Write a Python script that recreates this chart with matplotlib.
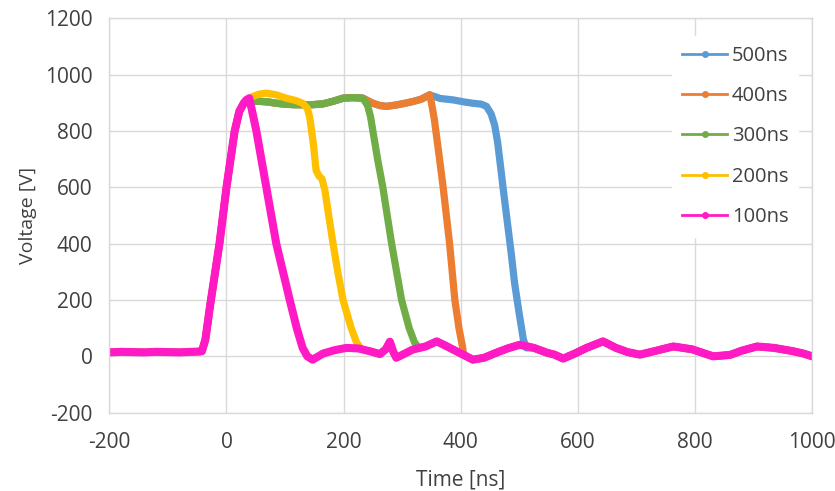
import numpy as np
import matplotlib
matplotlib.use("Agg")
import matplotlib.pyplot as plt
from matplotlib.lines import Line2D

plt.rcParams["font.family"] = ["Open Sans", "DejaVu Sans"]
plt.rcParams["axes.unicode_minus"] = False

# pulse widths and trace colours
labels = ["500ns", "400ns", "300ns", "200ns", "100ns"]
colors = ["#5B9BD5", "#ED7D31", "#70AD47", "#FFC000", "#FF1AC6"]

# flat level before the pulse
lead_t = [-200, -180, -160, -140, -120, -100, -80, -60, -46]
lead_v = [14, 16, 15, 14, 16, 15, 14, 16, 17]

# common rising edge
rise_t = [-42, -36, -28, -20, -12, 0, 14, 22, 30]
rise_v = [18, 60, 180, 290, 400, 600, 800, 870, 900]

# common flat top (500/400/300 ns traces)
top_t = [40, 55, 70, 85, 100, 115, 130, 147, 165, 182, 199, 215, 233, 250,
         262, 273, 290, 305, 318, 332, 347, 365, 387, 405, 421, 435, 444]
top_v = [905, 905, 903, 898, 895, 893, 893, 893, 896, 905, 916, 918, 916, 898,
         890, 887, 892, 898, 904, 912, 928, 915, 910, 903, 898, 895, 887]

# 200 ns flat top
yellow_top_t = [36, 45, 55, 68, 85, 102, 118, 130, 138]
yellow_top_v = [910, 922, 930, 934, 928, 916, 908, 898, 880]

# falling edges
blue_fall_t = [452, 458, 463, 468, 474, 480, 486, 492, 500, 507, 512]
blue_fall_v = [860, 820, 760, 674, 570, 470, 370, 260, 150, 60, 30]
orange_fall_t = [350, 355, 362, 370, 381, 390, 397, 403]
orange_fall_v = [900, 840, 730, 600, 400, 200, 100, 35]
green_fall_t = [241, 246, 250, 258, 267, 282, 299, 312, 321, 328]
green_fall_v = [890, 850, 800, 700, 600, 400, 200, 100, 50, 30]
yellow_fall_t = [142, 148, 153, 158, 163, 168, 176, 182, 190, 199, 213, 222, 230]
yellow_fall_v = [850, 760, 660, 640, 630, 590, 480, 400, 300, 200, 100, 50, 25]
pink_fall_t = [34, 39, 51, 68, 85, 108, 120, 130, 138, 147]
pink_fall_v = [910, 916, 800, 600, 400, 200, 100, 30, 0, -12]

# ringing after the pulse
tail_t = [147, 165, 185, 205, 225, 245, 262, 272, 279, 285, 290, 300, 318, 340,
          359, 372, 387, 405, 421, 440, 461, 480, 501, 525, 547, 560, 575, 595,
          615, 643, 665, 685, 706, 730, 763, 795, 831, 860, 880, 906, 935, 968,
          985, 1000]
tail_v = [-12, 10, 22, 30, 28, 18, 8, 25, 52, 15, -5, 5, 24, 35,
          53, 40, 24, 5, -12, -5, 13, 28, 41, 30, 13, 6, -8, 10,
          30, 53, 30, 15, 6, 18, 35, 25, 0, 5, 20, 35, 30, 18,
          10, 0]


def build(top_x, top_y, fall_x, fall_y):
    top_x, top_y = np.asarray(top_x), np.asarray(top_y)
    tx, ty = np.asarray(tail_t), np.asarray(tail_v)
    keep_top = top_x < fall_x[0]
    keep_tail = tx > fall_x[-1]
    keep_rise = np.asarray(rise_t) < fall_x[0]
    t = np.concatenate([lead_t, np.asarray(rise_t)[keep_rise], top_x[keep_top], fall_x, tx[keep_tail]])
    v = np.concatenate([lead_v, np.asarray(rise_v)[keep_rise], top_y[keep_top], fall_y, ty[keep_tail]])
    return t, v


traces = [
    build(top_t, top_v, blue_fall_t, blue_fall_v),
    build(top_t, top_v, orange_fall_t, orange_fall_v),
    build(top_t, top_v, green_fall_t, green_fall_v),
    build(yellow_top_t, yellow_top_v, yellow_fall_t, yellow_fall_v),
    build([], [], pink_fall_t, pink_fall_v),
]

fig = plt.figure(figsize=(8.35, 4.91), dpi=100)
ax = fig.add_axes([0.131, 0.1595, 0.8415, 0.8035])

for (t, v), c in zip(traces, colors):
    lw = 5.8 if c == colors[-1] else 5.2
    ax.plot(t, v, color=c, lw=lw, solid_joinstyle="round", solid_capstyle="round")

ax.set_xlim(-200, 1000)
ax.set_ylim(-200, 1200)
ax.set_xticks(np.arange(-200, 1001, 200))
ax.set_yticks(np.arange(-200, 1201, 200))
ax.grid(True, color="#D9D9D9", lw=1)
ax.set_axisbelow(True)
for s in ax.spines.values():
    s.set_color("#D9D9D9")
    s.set_linewidth(1)
ax.tick_params(length=0, labelsize=15, colors="#404040")
ax.tick_params(axis="x", pad=14)
ax.tick_params(axis="y", pad=12)
ax.set_xlabel("Time [ns]", fontsize=15, color="#404040", labelpad=12)
ax.set_ylabel("Voltage [V]", fontsize=14, color="#404040", labelpad=6)

handles = [Line2D([0], [0], color=c, lw=2, marker="o", markersize=4) for c in colors]
leg = ax.legend(handles, labels, loc="upper right", bbox_to_anchor=(0.995, 0.98),
                fontsize=14.5, frameon=True, handlelength=2.2, labelspacing=1.0,
                borderpad=0.5, handletextpad=0.25)
leg.get_frame().set_facecolor("white")
leg.get_frame().set_edgecolor("white")
leg.get_frame().set_alpha(1)
for txt in leg.get_texts():
    txt.set_color("#404040")

fig.savefig("out.png", dpi=100)
